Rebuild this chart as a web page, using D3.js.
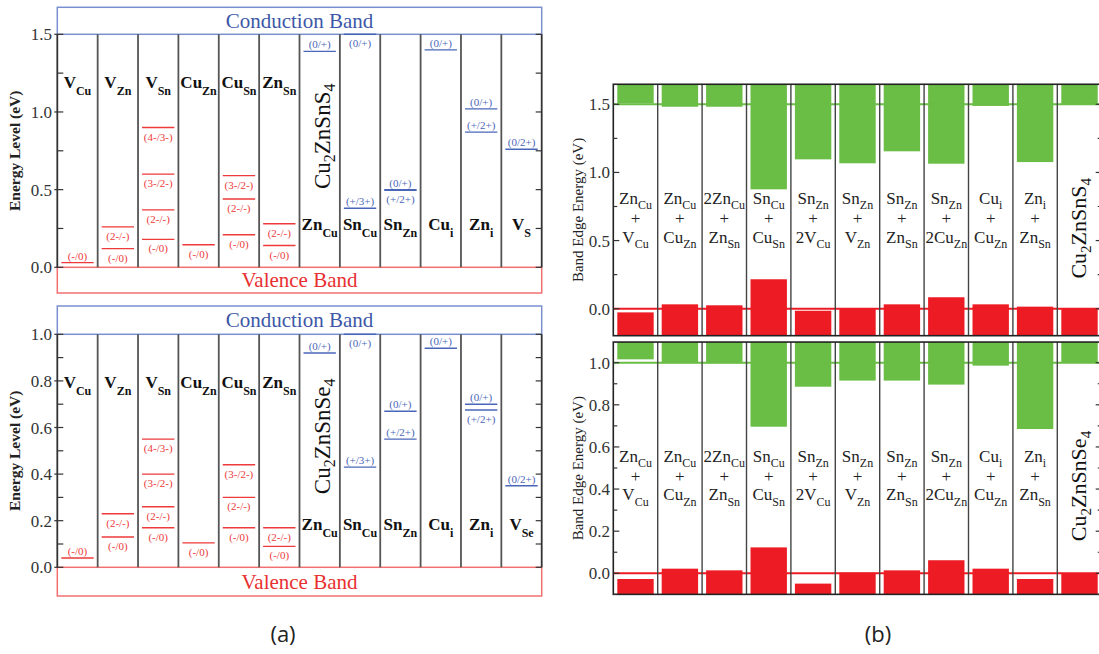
<!DOCTYPE html>
<html>
<head>
<meta charset="utf-8">
<script src="https://cdn.jsdelivr.net/npm/d3@7/dist/d3.min.js"></script>
<style>
  body { margin: 0; background: #fff; }
  text { font-family: "Liberation Serif", "DejaVu Serif", serif; }
</style>
</head>
<body>
<svg id="chart" width="1099" height="654"></svg>
<script>
// ---------- data : panel (a) ----------
var defectsS = [["V","Cu"],["V","Zn"],["V","Sn"],["Cu","Zn"],["Cu","Sn"],["Zn","Sn"],
                ["Zn","Cu"],["Sn","Cu"],["Sn","Zn"],["Cu","i"],["Zn","i"],["V","S"]];
var defectsSe = [["V","Cu"],["V","Zn"],["V","Sn"],["Cu","Zn"],["Cu","Sn"],["Zn","Sn"],
                 ["Zn","Cu"],["Sn","Cu"],["Sn","Zn"],["Cu","i"],["Zn","i"],["V","Se"]];

// acceptor levels [column, energy, label]
var acceptorsS = [
  [0,0.03,"(-/0)"],
  [1,0.26,"(2-/-)"],[1,0.12,"(-/0)"],
  [2,0.90,"(4-/3-)"],[2,0.60,"(3-/2-)"],[2,0.37,"(2-/-)"],[2,0.18,"(-/0)"],
  [3,0.145,"(-/0)"],
  [4,0.59,"(3-/2-)"],[4,0.44,"(2-/-)"],[4,0.21,"(-/0)"],
  [5,0.28,"(2-/-)"],[5,0.14,"(-/0)"]
];
var donorsS = [
  [6,1.39,"(0/+)"],
  [7,1.50,"(0/+)"],[7,0.38,"(+/3+)"],
  [8,0.50,"(0/+)"],[8,0.495,"(+/2+)"],
  [9,1.40,"(0/+)"],
  [10,1.02,"(0/+)"],[10,0.87,"(+/2+)"],
  [11,0.76,"(0/2+)"]
];
var acceptorsSe = [
  [0,0.04,"(-/0)"],
  [1,0.23,"(2-/-)"],[1,0.13,"(-/0)"],
  [2,0.55,"(4-/3-)"],[2,0.40,"(3-/2-)"],[2,0.26,"(2-/-)"],[2,0.17,"(-/0)"],
  [3,0.105,"(-/0)"],
  [4,0.44,"(3-/2-)"],[4,0.30,"(2-/-)"],[4,0.17,"(-/0)"],
  [5,0.17,"(2-/-)"],[5,0.09,"(-/0)"]
];
var donorsSe = [
  [6,0.92,"(0/+)"],
  [7,1.00,"(0/+)"],[7,0.43,"(+/3+)"],
  [8,0.67,"(0/+)"],[8,0.55,"(+/2+)"],
  [9,0.94,"(0/+)"],
  [10,0.70,"(0/+)"],[10,0.675,"(+/2+)"],
  [11,0.35,"(0/2+)"]
];

// ---------- data : panel (b) ----------
var complexes = [
  [["Zn","Cu"],["V","Cu"]],
  [["Zn","Cu"],["Cu","Zn"]],
  [["2Zn","Cu"],["Zn","Sn"]],
  [["Sn","Cu"],["Cu","Sn"]],
  [["Sn","Zn"],["2V","Cu"]],
  [["Sn","Zn"],["V","Zn"]],
  [["Sn","Zn"],["Zn","Sn"]],
  [["Sn","Zn"],["2Cu","Zn"]],
  [["Cu","i"],["Cu","Zn"]],
  [["Zn","i"],["Zn","Sn"]],
  null
];
var cbmS  = [1.507,1.482,1.482,0.876,1.096,1.067,1.155,1.064,1.488,1.076,1.50];
var vbmS  = [-0.027,0.032,0.025,0.216,-0.015,0.005,0.032,0.084,0.032,0.015,0.0];
var cbmSe = [1.016,0.997,0.997,0.696,0.886,0.915,0.915,0.896,0.986,0.685,1.0];
var vbmSe = [-0.027,0.022,0.014,0.123,-0.049,0.003,0.014,0.062,0.022,-0.027,0.0];

var hostS  = ["Cu","2","ZnSnS","4"];
var hostSe = ["Cu","2","ZnSnSe","4"];

var svg = d3.select("#chart");
var RED = "#ed1c24", GREEN = "#6abd45", BLUE = "#3d57a8";

// text with alternating normal / subscript segments
function formula(t, segs, size, subSize, shift){
  segs.forEach(function(s,i){
    var sp = t.append("tspan").text(s).attr("font-size", (i%2 ? subSize : size) + "px");
    if(i > 0) sp.attr("dy", i%2 ? shift : -shift);
  });
  return t;
}

function drawLevels(g, levels, x, y, color, isDonor, yMax){
  var bw = x.bandwidth();
  levels.forEach(function(d){
    var c = d[0], e = d[1];
    var x0 = x(c) + 4, x1 = x(c) + bw - 4;
    var py = y(Math.min(e, yMax));
    g.append("line").attr("x1",x0).attr("x2",x1).attr("y1",py).attr("y2",py)
      .attr("stroke",color).attr("stroke-width",1.4);
    var below;
    if(isDonor){
      // put label under the line when it sits at the band edge or just below another level
      var higher = levels.some(function(o){ return o[0]===c && o[1]>e && o[1]-e<0.05; });
      below = e >= yMax || higher;
    } else {
      below = e > 0.06;
    }
    g.append("text").attr("x", x(c)+bw/2).attr("y", below ? py+13 : py-3)
      .attr("text-anchor","middle").attr("font-size","11px").attr("fill",color)
      .text(d[2]);
  });
}

function drawA(cfg){
  var g = svg.append("g");
  var y = d3.scaleLinear().domain([0,cfg.max]).range([cfg.y0, cfg.y1]);
  var x = d3.scaleBand().domain(d3.range(cfg.cols.length)).range([57.3, 541.7]);
  var xl = 57.3, xr = 541.7, bw = x.bandwidth();

  // bands
  g.append("rect").attr("x",xl).attr("y",cfg.cbTop).attr("width",xr-xl).attr("height",cfg.y1-cfg.cbTop)
    .attr("fill","none").attr("stroke","#7a8fd0").attr("stroke-width",1.5);
  g.append("text").attr("x",(xl+xr)/2).attr("y",(cfg.cbTop+cfg.y1)/2+7).attr("text-anchor","middle")
    .attr("font-size","21px").attr("fill",BLUE).text("Conduction Band");
  g.append("rect").attr("x",xl).attr("y",cfg.y0).attr("width",xr-xl).attr("height",cfg.vbBot-cfg.y0)
    .attr("fill","none").attr("stroke","#f27070").attr("stroke-width",1.5);
  g.append("text").attr("x",(xl+xr)/2).attr("y",(cfg.y0+cfg.vbBot)/2+7).attr("text-anchor","middle")
    .attr("font-size","21px").attr("fill","#e83030").text("Valence Band");

  // column separators
  d3.range(cfg.cols.length+1).forEach(function(i){
    var px = i < cfg.cols.length ? x(i) : xr;
    g.append("line").attr("x1",px).attr("x2",px).attr("y1",cfg.y1).attr("y2",cfg.y0)
      .attr("stroke", i===0 || i===cfg.cols.length ? "#333" : "#555").attr("stroke-width",1.8);
  });

  // ticks
  var minor = d3.range(0, cfg.max + 1e-9, cfg.minor);
  minor.forEach(function(v){
    var major = Math.abs(v/cfg.major - Math.round(v/cfg.major)) < 1e-6;
    g.append("line").attr("x1",xl-(major?3:0)).attr("x2",xl+6).attr("y1",y(v)).attr("y2",y(v))
      .attr("stroke","#333").attr("stroke-width",1.2);
    g.append("line").attr("x1",xr-6).attr("x2",xr).attr("y1",y(v)).attr("y2",y(v))
      .attr("stroke","#333").attr("stroke-width",1.2);
    if(major){
      g.append("text").attr("x",52).attr("y",y(v)+6).attr("text-anchor","end")
        .attr("font-size","17px").attr("fill","#333").text(d3.format(".1f")(v));
    }
  });
  g.append("text").attr("transform","translate(20,"+((cfg.y0+cfg.y1)/2)+") rotate(-90)")
    .attr("text-anchor","middle").attr("font-size","15.5px").attr("font-weight","bold")
    .attr("fill","#222").text("Energy Level (eV)");

  drawLevels(g, cfg.acc, x, y, "#ee3a3a", false, cfg.max);
  drawLevels(g, cfg.don, x, y, "#4a66b8", true, cfg.max);

  // column names: acceptor-type on top, donor-type at the bottom
  cfg.cols.forEach(function(c,i){
    var top = cfg.acc.some(function(d){ return d[0]===i; });
    var t = g.append("text").attr("x", x(i)+bw/2).attr("y", top ? cfg.y1+53.4 : cfg.y0-37.3)
      .attr("text-anchor","middle").attr("font-weight","bold").attr("fill","#111");
    formula(t, c, 17, 12, 7);
  });

  var hx = x(6)+bw/2+10, hy = cfg.y1+102;
  formula(g.append("text").attr("transform","translate("+hx+","+hy+") rotate(-90)")
    .attr("text-anchor","middle").attr("fill","#111"), cfg.host, 23, 16, 5);
}

function drawB(cfg){
  var g = svg.append("g");
  var y = d3.scaleLinear().domain([0,cfg.host]).range([cfg.y0, cfg.y1]);
  var n = complexes.length, cw = 44.4;
  var xl = 613.3, xr = xl + n*cw;
  var x = d3.scaleBand().domain(d3.range(n)).range([xl, xr]);
  var bw = x.bandwidth();
  var ft = y(cfg.top), fb = y(cfg.bot);

  g.selectAll(".cb").data(cfg.cbm).enter().append("rect")
    .attr("x",(d,i)=>x(i)+4).attr("width",bw-8)
    .attr("y",ft).attr("height",d=>y(d)-ft).attr("fill",GREEN);
  g.selectAll(".vb").data(cfg.vbm).enter().append("rect")
    .attr("x",(d,i)=>x(i)+4).attr("width",bw-8)
    .attr("y",d=>y(d)).attr("height",d=>fb-y(d)).attr("fill",RED);

  g.append("line").attr("x1",xl).attr("x2",xr).attr("y1",y(cfg.host)).attr("y2",y(cfg.host))
    .attr("stroke",GREEN).attr("stroke-width",2);
  g.append("line").attr("x1",xl).attr("x2",xr).attr("y1",y(0)).attr("y2",y(0))
    .attr("stroke",RED).attr("stroke-width",2);

  d3.range(1,n).forEach(function(i){
    g.append("line").attr("x1",x(i)).attr("x2",x(i)).attr("y1",ft).attr("y2",fb)
      .attr("stroke","#444").attr("stroke-width",1.4);
  });
  g.append("rect").attr("x",xl).attr("y",ft).attr("width",xr-xl).attr("height",fb-ft)
    .attr("fill","none").attr("stroke","#222").attr("stroke-width",1.6);

  var ticks = d3.range(Math.ceil(cfg.bot/cfg.minor)*cfg.minor, cfg.top, cfg.minor);
  ticks.forEach(function(v){
    v = Math.round(v*1000)/1000;
    var major = Math.abs(v/cfg.major - Math.round(v/cfg.major)) < 1e-6;
    g.append("line").attr("x1",xl).attr("x2",xl+(major?6:4)).attr("y1",y(v)).attr("y2",y(v))
      .attr("stroke","#333").attr("stroke-width",1.2);
    g.append("line").attr("x1",xr-(major?6:4)).attr("x2",xr).attr("y1",y(v)).attr("y2",y(v))
      .attr("stroke","#333").attr("stroke-width",1.2);
    if(major){
      g.append("text").attr("x",610).attr("y",y(v)+6).attr("text-anchor","end")
        .attr("font-size","17px").attr("fill","#333").text(d3.format(".1f")(v));
    }
  });
  g.append("text").attr("transform","translate(583,"+((ft+fb)/2)+") rotate(-90)")
    .attr("text-anchor","middle").attr("font-size","15px").attr("fill","#222")
    .text("Band Edge Energy (eV)");

  complexes.forEach(function(c,i){
    var cx = x(i)+bw/2;
    if(!c){
      formula(g.append("text").attr("transform","translate("+(cx+6)+","+(ft+144)+") rotate(-90)")
        .attr("text-anchor","middle").attr("fill","#111"), cfg.hostName, 22, 15, 5);
      return;
    }
    formula(g.append("text").attr("x",cx).attr("y",ft+119.7).attr("text-anchor","middle")
      .attr("fill","#222"), c[0], 17, 12, 5);
    g.append("text").attr("x",cx).attr("y",ft+140).attr("text-anchor","middle")
      .attr("font-size","17px").attr("fill","#222").text("+");
    formula(g.append("text").attr("x",cx).attr("y",ft+158.4).attr("text-anchor","middle")
      .attr("fill","#222"), c[1], 17, 12, 5.5);
  });
}

drawA({max:1.5, y0:267.3, y1:34.3, cbTop:7.3, vbBot:293, major:0.5, minor:0.25,
       cols:defectsS, acc:acceptorsS, don:donorsS, host:hostS});
drawA({max:1.0, y0:567.3, y1:334.3, cbTop:306, vbBot:596, major:0.2, minor:0.1,
       cols:defectsSe, acc:acceptorsSe, don:donorsSe, host:hostSe});

drawB({host:1.5, y0:308.7, y1:104.3, top:1.647, bot:-0.198, major:0.5, minor:0.25,
       cbm:cbmS, vbm:vbmS, hostName:hostS});
drawB({host:1.0, y0:573.3, y1:362.7, top:1.098, bot:-0.1, major:0.2, minor:0.1,
       cbm:cbmSe, vbm:vbmSe, hostName:hostSe});

svg.append("text").attr("x",283).attr("y",642).attr("text-anchor","middle")
  .style("font-family","'Open Sans', 'Liberation Sans', sans-serif").attr("font-size","22px")
  .attr("fill","#222").text("(a)");
svg.append("text").attr("x",878).attr("y",642).attr("text-anchor","middle")
  .style("font-family","'Open Sans', 'Liberation Sans', sans-serif").attr("font-size","22px")
  .attr("fill","#222").text("(b)");
</script>
</body>
</html>
